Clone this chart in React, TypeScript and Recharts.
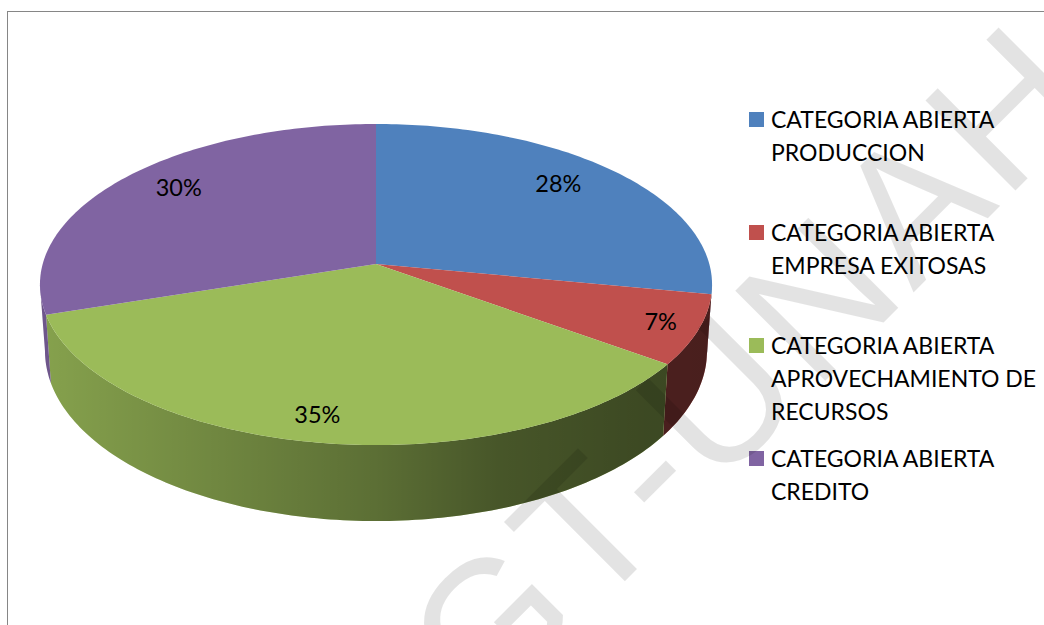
import React from "react";
import { PieChart, Pie, Cell, Legend } from "recharts";

const categories = [
  "CATEGORIA ABIERTA PRODUCCION",
  "CATEGORIA ABIERTA EMPRESA EXITOSAS",
  "CATEGORIA ABIERTA APROVECHAMIENTO DE RECURSOS",
  "CATEGORIA ABIERTA CREDITO",
];
const shares = [28, 7, 35, 30];
const sliceColors = ["#4f81bd", "#c0504d", "#9bbb59", "#8064a2"];
const watermark = "GT-UNAH";

const chartData = categories.map((name, i) => ({ name, value: shares[i] }));

// Tilted disc: the plane of the pie seen in perspective
const CX = 376;
const CY = 264;
const RX = 333.3;
const RY = 157.9;
const PERSP = 0.1277;
const FONT = "Lato, 'Noto Sans', sans-serif";

const project = (deg: number, r = 1) => {
  const t = (deg * Math.PI) / 180;
  const u = Math.sin(t) * r;
  const v = Math.cos(t) * r;
  const w = 1 + PERSP * v;
  return { x: CX + (RX * u) / w, y: CY - (RY * v) / w, v };
};

// Same point on the lower rim of the disc
const projectLow = (deg: number) => {
  const p = project(deg);
  return { x: CX + (p.x - CX) * 0.985, y: p.y + 65 - 11 * p.v };
};

const sweep = (from: number, to: number) => {
  const out: number[] = [];
  for (let d = from; d < to; d += 1) out.push(d);
  out.push(to);
  return out;
};

const toPath = (pts: { x: number; y: number }[]) =>
  "M" + pts.map((p) => `${p.x.toFixed(2)},${p.y.toFixed(2)}`).join("L") + "Z";

// The side wall only shows between the two tangent points of the rim
const WALL_FROM = (Math.acos(-PERSP) * 180) / Math.PI;
const WALL_TO = 360 - WALL_FROM;

const Slice3D = (props: any) => {
  const { startAngle, endAngle, fill } = props;
  const from = 90 - startAngle;
  const to = 90 - endAngle;
  const top = toPath([{ x: CX, y: CY }, ...sweep(from, to).map((d) => project(d))]);

  const a = Math.max(from, WALL_FROM);
  const b = Math.min(to, WALL_TO);
  let wall = null;
  if (b > a) {
    const angles = sweep(a, b);
    const d = toPath([
      ...angles.map((x) => project(x)),
      ...[...angles].reverse().map((x) => projectLow(x)),
    ]);
    wall = (
      <g>
        <path d={d} fill={fill} />
        <path d={d} fill="url(#wallShade)" />
      </g>
    );
  }
  return (
    <g>
      {wall}
      <path d={top} fill={fill} />
    </g>
  );
};

// Hand placement of the labels, like the original
const labelNudge = [
  [-15, -4],
  [23, 3],
  [-11, 7],
  [11, -5],
];

const renderLabel = (props: any) => {
  const { index, value } = props;
  const mid = 90 - props.midAngle;
  const p = project(mid, 0.82);
  return (
    <text
      x={p.x + labelNudge[index][0]}
      y={p.y + labelNudge[index][1]}
      textAnchor="middle"
      dominantBaseline="central"
      style={{ fontFamily: FONT, fontSize: 23.5 }}
      fill="#000"
    >
      {`${value}%`}
    </text>
  );
};

const renderLegend = (props: any) => (
  <div style={{ fontFamily: FONT, fontSize: 23, lineHeight: "33px", color: "#000" }}>
    {props.payload.map((item: any, i: number) => (
      <div
        key={item.value}
        style={{ position: "absolute", left: 0, top: i * 113, width: 295, paddingLeft: 22, boxSizing: "border-box" }}
      >
        <span
          style={{
            position: "absolute",
            left: 0,
            top: 9,
            width: 15,
            height: 15,
            background: sliceColors[i],
          }}
        />
        {item.value}
      </div>
    ))}
  </div>
);

const App = () => (
  <div
    style={{
      position: "absolute",
      left: 0,
      top: 0,
      width: 1044,
      height: 625,
      overflow: "hidden",
      background: "#fff",
    }}
  >
    <div
      style={{
        position: "absolute",
        left: 7,
        top: 11,
        width: 1100,
        height: 700,
        borderLeft: "1.5px solid #868686",
        borderTop: "1.5px solid #868686",
      }}
    />
    <PieChart width={1044} height={625} style={{ position: "absolute", left: 0, top: 0 }}>
      <defs>
        <linearGradient id="wallShade" gradientUnits="userSpaceOnUse" x1={44} y1={0} x2={711} y2={0}>
          <stop offset="0" stopColor="#000" stopOpacity={0.14} />
          <stop offset="0.5" stopColor="#000" stopOpacity={0.41} />
          <stop offset="0.68" stopColor="#000" stopOpacity={0.54} />
          <stop offset="0.9" stopColor="#000" stopOpacity={0.61} />
          <stop offset="1" stopColor="#000" stopOpacity={0.62} />
        </linearGradient>
      </defs>
      <Pie
        data={chartData}
        dataKey="value"
        nameKey="name"
        cx={CX}
        cy={CY}
        outerRadius={RX}
        startAngle={90}
        endAngle={-270}
        stroke="none"
        shape={Slice3D}
        label={renderLabel}
        labelLine={false}
        isAnimationActive={false}
      >
        {chartData.map((d, i) => (
          <Cell key={d.name} fill={sliceColors[i]} />
        ))}
      </Pie>
      <Legend
        content={renderLegend}
        itemSorter={null}
        layout="vertical"
        verticalAlign="top"
        align="left"
        wrapperStyle={{ left: 749, top: 103, width: 295 }}
      />
    </PieChart>
    {/* scanned-document watermark sits over everything */}
    <svg
      width={1044}
      height={625}
      style={{ position: "absolute", left: 0, top: 0, pointerEvents: "none" }}
    >
      <text
        x={485}
        y={721}
        transform="rotate(-45 485 721)"
        fontFamily="'Liberation Sans', sans-serif"
        fontSize={185}
        letterSpacing={6}
        fill="#000"
        fillOpacity={0.11}
      >
        {watermark}
      </text>
    </svg>
  </div>
);

export default App;
